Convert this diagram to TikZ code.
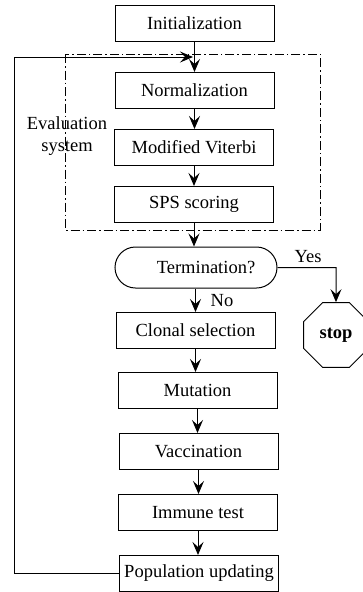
\documentclass[tikz,border=0pt]{standalone}
\usepackage{fontspec}
\setmainfont{Liberation Serif}
\usetikzlibrary{arrows.meta,shapes.geometric}
\tikzset{
  stage/.style={
    draw,
    line width=1pt,
    minimum width=159pt,
    minimum height=36pt,
    inner sep=2pt,
    font=\fontsize{18.5}{22}\selectfont
  },
  decide/.style={
    stage,
    minimum width=162pt,
    minimum height=41pt,
    rounded corners=20.5pt
  },
  halt/.style={
    draw,
    line width=1pt,
    regular polygon,
    regular polygon sides=8,
    minimum size=70pt,
    inner sep=0pt,
    font=\bfseries\fontsize{18.5}{22}\selectfont
  },
  tag/.style={
    inner sep=1pt,
    font=\fontsize{18.5}{22}\selectfont
  },
  flow/.style={
    -{Stealth[length=13pt,width=11pt,inset=5pt]},
    line width=1pt
  },
  evalbox/.style={
    line width=0.8pt,
    dash pattern=on 9pt off 3pt on 1.5pt off 3pt
  }
}

\begin{document}
\begin{tikzpicture}[x=1pt,y=-1pt]
  \useasboundingbox (0,0) rectangle (363,592);

  \node[stage] (init) at (194.5,23) {Initialization};
  \node[stage] (norm) at (194.5,90.5) {Normalization};
  \node[stage] (mvit) at (194,147.5) {Modified Viterbi};
  \node[stage] (sps) at (194,204.5) {SPS scoring};
  \node[decide] (term) at (196,267.5) {\hspace*{20pt}Termination?};
  \node[stage] (clonal) at (195.5,330.5) {Clonal selection};
  \node[stage] (mut) at (197.5,390.5) {Mutation};
  \node[stage] (vacc) at (198.5,451.5) {Vaccination};
  \node[stage] (immune) at (198,512.5) {Immune test};
  \node[stage] (popul) at (199,573.5) {Population updating};
  \node[halt] (stop) at (336,335) {stop};

  \node[tag] (yes) at (308,257) {Yes};
  \node[tag] (no) at (222,301) {No};
  \node[tag, align=center] (evaltag) at (67,136) {Evaluation\\system};

  \coordinate (corner) at (14,57);
  \coordinate (join) at (193,57);
  \coordinate (yesturn) at (336,267.5);

  \draw[evalbox] (65,54) rectangle (320,230);

  \draw[flow] (init.south) -- (init.south |- norm.north);
  \draw[flow] (norm.south) -- (norm.south |- mvit.north);
  \draw[flow] (mvit.south) -- (mvit.south |- sps.north);
  \draw[flow] (sps.south) -- (sps.south |- term.north);
  \draw[flow] (term.south -| clonal.south) -- (clonal.north);
  \draw[flow] (clonal.south) -- (clonal.south |- mut.north);
  \draw[flow] (mut.south) -- (mut.south |- vacc.north);
  \draw[flow] (vacc.south) -- (vacc.south |- immune.north);
  \draw[flow] (immune.south) -- (immune.south |- popul.north);
  \draw[flow] (term.east) -- (yesturn) -- (stop.north);
  \draw[flow] (popul.west) -| (corner) -- (join);
\end{tikzpicture}
\end{document}
